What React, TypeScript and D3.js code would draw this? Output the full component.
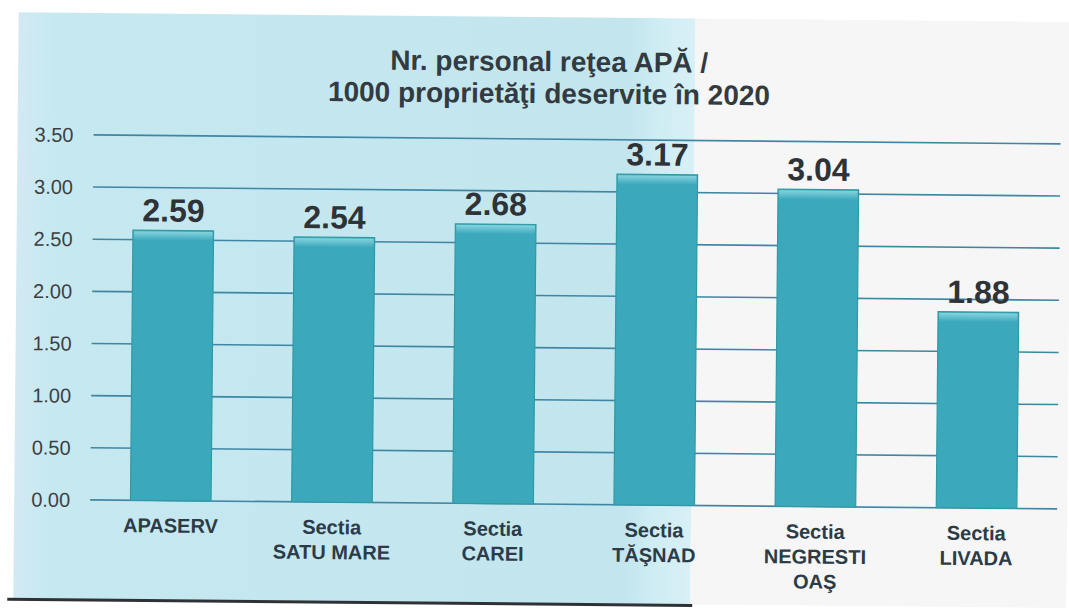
import * as d3 from "d3";
import React from "react";

const categories: string[][] = [
  ["APASERV"],
  ["Sectia", "SATU MARE"],
  ["Sectia", "CAREI"],
  ["Sectia", "TĂŞNAD"],
  ["Sectia", "NEGRESTI", "OAŞ"],
  ["Sectia", "LIVADA"],
];
const values: number[] = [2.59, 2.54, 2.68, 3.17, 3.04, 1.88];
const yTicks: number[] = [0, 0.5, 1, 1.5, 2, 2.5, 3, 3.5];
const titleLines: string[] = [
  "Nr. personal reţea APĂ /",
  "1000 proprietăţi deservite în 2020",
];

const width = 1069;
const height = 610;
const font = "'Liberation Sans', Arial, sans-serif";

const App = () => {
  const keys = categories.map((c) => c.join(" "));
  const x = d3.scaleBand<string>().domain(keys).range([92, 1059]).paddingInner(0.5).paddingOuter(0.25);
  const y = d3.scaleLinear().domain([0, 3.5]).range([504, 139]);

  return (
    <svg
      width={width}
      height={height}
      style={{ position: "absolute", left: 0, top: 0, background: "#ffffff" }}
    >
      <defs>
        <linearGradient id="bg" x1="0" x2="1" y1="0" y2="0">
          <stop offset="0" stopColor="#d3e9f4" />
          <stop offset="0.05" stopColor="#c6e9f1" />
          <stop offset="0.9" stopColor="#c2e5ee" />
          <stop offset="0.95" stopColor="#d0edf4" />
          <stop offset="1" stopColor="#d8f0f6" />
        </linearGradient>
        <linearGradient id="bevel" x1="0" x2="0" y1="0" y2="1">
          <stop offset="0" stopColor="#86d3df" />
          <stop offset="1" stopColor="#3ba9bb" />
        </linearGradient>
      </defs>
      <g transform="rotate(0.53 534 305)">
        <rect x={16} y={17} width={677} height={586} fill="url(#bg)" />
        <rect x={693} y={17} width={376} height={586} fill="#f6f6f6" />
        <line x1={10} x2={695} y1={604} y2={604} stroke="#2e3236" strokeWidth={3} />

        <g>
          {titleLines.map((t, i) => (
            <text
              key={t}
              x={547}
              y={71 + i * 32}
              textAnchor="middle"
              fontFamily={font}
              fontWeight="bold"
              fontSize={28}
              fill="#333b42"
            >
              {t}
            </text>
          ))}
        </g>

        {yTicks.map((t) => (
          <g key={t}>
            <line x1={92} x2={1059} y1={y(t)} y2={y(t)} stroke="#3f86a3" strokeWidth={1.6} />
            <text
              x={72}
              y={y(t)}
              dy="0.36em"
              textAnchor="end"
              fontFamily={font}
              fontSize={20}
              fill="#3c3f44"
            >
              {d3.format(".2f")(t)}
            </text>
          </g>
        ))}

        {values.map((v, i) => {
          const bx = x(keys[i]) as number;
          const bw = x.bandwidth();
          const top = y(v);
          return (
            <g key={keys[i]}>
              <rect x={bx} y={top} width={bw} height={y(0) - top} fill="#3ba9bb" stroke="#2f9aa2" strokeWidth={1.2} />
              <rect x={bx + 1} y={top + 1} width={bw - 2} height={9} fill="url(#bevel)" />
              <text
                x={bx + bw / 2}
                y={top - 9}
                textAnchor="middle"
                fontFamily={font}
                fontWeight="bold"
                fontSize={32}
                fill="#2f3236"
              >
                {d3.format(".2f")(v)}
              </text>
              {categories[i].map((line, k) => (
                <text
                  key={line}
                  x={bx + bw / 2}
                  y={536 + k * 25}
                  textAnchor="middle"
                  fontFamily={font}
                  fontWeight="bold"
                  fontSize={20}
                  fill="#2c3b48"
                >
                  {line}
                </text>
              ))}
            </g>
          );
        })}
      </g>
    </svg>
  );
};

export default App;
